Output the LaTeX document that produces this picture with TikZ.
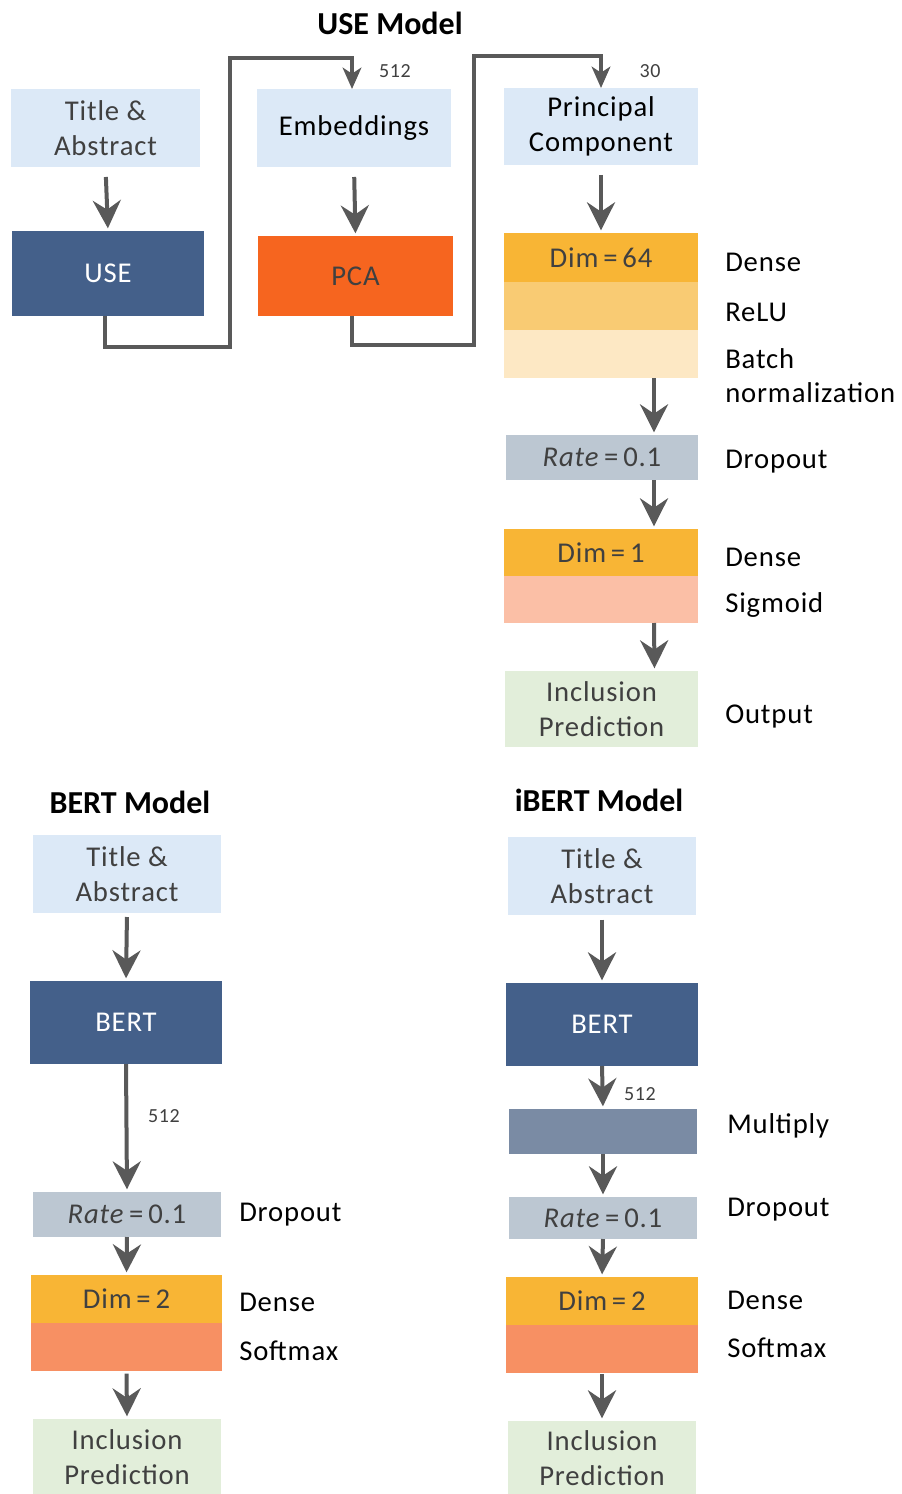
\documentclass[tikz,border=0pt]{standalone}
\usepackage{fontspec}
\setmainfont{Carlito}
\newfontfamily\bodyfont{Carlito}[LetterSpace=3]
\usetikzlibrary{arrows.meta}
\definecolor{lblue}{HTML}{DCE9F7}
\definecolor{dblue}{HTML}{44608A}
\definecolor{pcaor}{HTML}{F6651F}
\definecolor{dense}{HTML}{F8B535}
\definecolor{relu}{HTML}{F9CB73}
\definecolor{batch}{HTML}{FDE8C4}
\definecolor{rate}{HTML}{BCC7D2}
\definecolor{sigm}{HTML}{FBBFA6}
\definecolor{soft}{HTML}{F79063}
\definecolor{lgreen}{HTML}{E2EEDA}
\definecolor{mult}{HTML}{7A8BA4}
\definecolor{agrey}{HTML}{595959}
\definecolor{tgrey}{HTML}{404040}
\tikzset{
  bw/.style={minimum width=#1*0.75pt},
  bh/.style={minimum height=#1*0.75pt},
  box/.style={inner sep=0pt, outer sep=0pt, align=center, text=tgrey,
    font=\bodyfont\fontsize{21.5}{26}\selectfont},
  lbl/.style={anchor=west, inner sep=0pt, align=left, text=black,
    font=\bodyfont\fontsize{21.5}{26}\selectfont},
  ttl/.style={inner sep=0pt, font=\fontsize{24}{28}\selectfont\bfseries},
  num/.style={inner sep=0pt, text=tgrey, font=\bodyfont\fontsize{15}{17}\selectfont},
  arr/.style={draw=agrey, line width=3pt,
    -{Stealth[length=21pt, width=21pt, inset=7pt]}, shorten <=0pt, shorten >=2pt},
  elbow/.style={draw=agrey, line width=2.6pt,
    -{Stealth[length=16pt, width=14pt, inset=4.5pt]}, shorten >=0pt}
}
\begin{document}
\begin{tikzpicture}[x=0.75pt,y=-0.75pt]
\useasboundingbox (0,0) rectangle (902,1494);

% ---------- USE model ----------
\node[ttl] (t1) at (390,23) {USE Model};
\node[box, fill=lblue, bw=189, bh=78] (ta1) at (105.5,128) {Title \&\\Abstract};
\node[box, fill=dblue, text=white, bw=192, bh=85] (use) at (108,273.5) {USE};
\node[box, fill=lblue, text=black, bw=194, bh=78] (emb) at (354,128) {Embeddings};
\node[box, fill=pcaor, bw=195, bh=80] (pca) at (355.5,276) {PCA};
\node[box, fill=lblue, text=black, bw=194, bh=77] (pc) at (601,126.5) {Principal\\Component};
\node[box, fill=dense, bw=194, bh=49] (d64) at (601,257.5) {Dim\,=\,64};
\node[box, fill=relu, bw=194, bh=48] (relu) at (601,306) {};
\node[box, fill=batch, bw=194, bh=48] (bn) at (601,354) {};
\node[box, fill=rate, bw=192, bh=45] (rate1) at (602,457.5) {\textit{Rate}\,=\,0.1};
\node[box, fill=dense, bw=194, bh=47] (d1) at (601,552.5) {Dim\,=\,1};
\node[box, fill=sigm, bw=194, bh=47] (sig) at (601,599.5) {};
\node[box, fill=lgreen, bw=193, bh=76] (out1) at (601.5,709) {Inclusion\\Prediction};

\node[num] (n512a) at (395,71) {512};
\node[num] (n30) at (650,71) {30};

\node[lbl] (l1) at (725,262) {Dense};
\node[lbl] (l2) at (725,312) {ReLU};
\node[lbl] (l3) at (725,375.5) {Batch\\normalization};
\node[lbl] (l4) at (725,462) {Dropout};
\node[lbl] (l5) at (725,557) {Dense};
\node[lbl] (l6) at (725,605) {Sigmoid};
\node[lbl] (l7) at (725,717) {Output};

\draw[arr, shorten <=7.5pt] (ta1.south) -- (use.north);
\draw[arr, shorten <=7.5pt] (emb.south) -- (pca.north);
\draw[arr, shorten <=7.5pt] (pc.south) -- (d64.north);
\draw[arr] ([xshift=39.75pt]bn.south) -- ([xshift=39pt]rate1.north);
\draw[arr] ([xshift=39pt]rate1.south) -- ([xshift=39.75pt]d1.north);
\draw[arr] ([xshift=39.75pt]sig.south) -- ([xshift=39.75pt]out1.north);

\draw[elbow] ([xshift=-2.25pt]use.south) -- ++(0,31) -| (230,58) -| ([xshift=-1.5pt]emb.north);
\draw[elbow] ([xshift=-2.6pt]pca.south) -- ++(0,29) -| (474,56) -| (pc.north);

% ---------- BERT model ----------
\node[ttl] (t2) at (130,802) {BERT Model};
\node[box, fill=lblue, bw=188, bh=78] (ta2) at (127,874) {Title \&\\Abstract};
\node[box, fill=dblue, text=white, bw=192, bh=83] (bert2) at (126,1022.5) {BERT};
\node[box, fill=rate, bw=188, bh=45] (rate2) at (127,1214.5) {\textit{Rate}\,=\,0.1};
\node[box, fill=dense, bw=191, bh=48] (d2) at (126.5,1299) {Dim\,=\,2};
\node[box, fill=soft, bw=191, bh=48] (soft2) at (126.5,1347) {};
\node[box, fill=lgreen, bw=188, bh=76] (out2) at (127,1457) {Inclusion\\Prediction};
\node[num] (n512b) at (164,1116) {512};
\node[lbl] (l8) at (239,1215) {Dropout};
\node[lbl] (l9) at (239,1302) {Dense};
\node[lbl] (l10) at (239,1351) {Softmax};

\draw[arr, shorten <=3pt] (ta2.south) -- (bert2.north);
\draw[arr] (bert2.south) -- (rate2.north);
\draw[arr] (rate2.south) -- (d2.north);
\draw[arr, shorten <=2pt] (soft2.south) -- (out2.north);

% ---------- iBERT model ----------
\node[ttl] (t3) at (599,800) {iBERT Model};
\node[box, fill=lblue, bw=188, bh=78] (ta3) at (602,876) {Title \&\\Abstract};
\node[box, fill=dblue, text=white, bw=192, bh=83] (bert3) at (602,1024.5) {BERT};
\node[box, fill=mult, bw=188, bh=45] (mult) at (603,1131.5) {};
\node[box, fill=rate, bw=188, bh=42] (rate3) at (603,1218) {\textit{Rate}\,=\,0.1};
\node[box, fill=dense, bw=192, bh=48] (d3) at (602,1301) {Dim\,=\,2};
\node[box, fill=soft, bw=192, bh=48] (soft3) at (602,1349) {};
\node[box, fill=lgreen, bw=188, bh=74] (out3) at (602,1458) {Inclusion\\Prediction};
\node[num] (n512c) at (640,1094) {512};
\node[lbl] (l11) at (727,1126) {Multiply};
\node[lbl] (l12) at (727,1210) {Dropout};
\node[lbl] (l13) at (727,1300) {Dense};
\node[lbl] (l14) at (727,1348) {Softmax};

\draw[arr, shorten <=3.5pt] (ta3.south) -- (bert3.north);
\draw[arr] (bert3.south) -- (mult.north);
\draw[arr] (mult.south) -- (rate3.north);
\draw[arr] (rate3.south) -- (d3.north);
\draw[arr, shorten <=1pt] (soft3.south) -- (out3.north);
\end{tikzpicture}
\end{document}
